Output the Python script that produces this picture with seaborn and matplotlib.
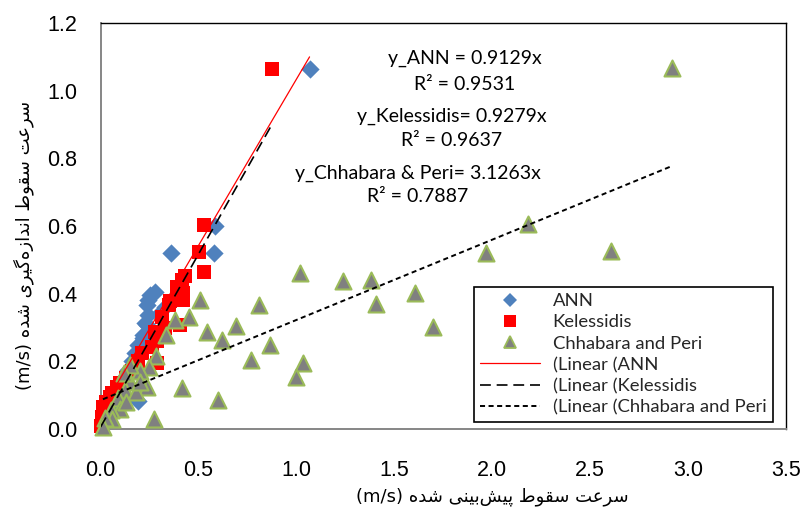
import numpy as np
import matplotlib
matplotlib.use("Agg")
import matplotlib.pyplot as plt
from matplotlib.lines import Line2D
import seaborn as sns

# ---- data: predicted (x) vs measured (y) settling velocity, m/s ----
ann_x = [1.067, 0.585, 0.577, 0.359, 0.278, 0.253, 0.244, 0.236, 0.244, 0.227,
         0.236, 0.219, 0.219, 0.193, 0.185, 0.176, 0.160, 0.140, 0.120, 0.190,
         0.100, 0.080, 0.060, 0.040, 0.020, 0.010, 0.300, 0.330]
ann_y = [1.065, 0.600, 0.520, 0.520, 0.406, 0.396, 0.382, 0.367, 0.337, 0.313,
         0.308, 0.278, 0.268, 0.249, 0.229, 0.224, 0.200, 0.175, 0.150, 0.083,
         0.120, 0.100, 0.075, 0.050, 0.030, 0.012, 0.340, 0.360]

kel_x = [0.876, 0.530, 0.505, 0.526, 0.432, 0.415, 0.389, 0.423, 0.389, 0.415,
         0.423, 0.355, 0.347, 0.313, 0.406, 0.278, 0.262, 0.287, 0.210, 0.190,
         0.160, 0.130, 0.100, 0.082, 0.060, 0.048, 0.030, 0.014, 0.005, 0.000,
         0.290, 0.330]
kel_y = [1.065, 0.604, 0.522, 0.465, 0.451, 0.441, 0.421, 0.401, 0.406, 0.391,
         0.382, 0.377, 0.367, 0.332, 0.308, 0.288, 0.243, 0.194, 0.224, 0.200,
         0.170, 0.150, 0.135, 0.125, 0.105, 0.096, 0.080, 0.066, 0.036, 0.010,
         0.260, 0.300]

chh_x = [2.919, 2.182, 2.607, 1.967, 1.606, 1.696, 1.379, 1.408, 1.237, 1.016,
         1.034, 1.000, 0.867, 0.811, 0.770, 0.691, 0.620, 0.599, 0.543, 0.509,
         0.449, 0.381, 0.415, 0.273, 0.335, 0.283, 0.249, 0.236, 0.202, 0.150,
         0.150, 0.121, 0.123, 0.089, 0.100, 0.055, 0.060, 0.021, 0.012, 0.180,
         0.200, 0.130]
chh_y = [1.068, 0.607, 0.527, 0.521, 0.401, 0.301, 0.441, 0.370, 0.436, 0.461,
         0.194, 0.153, 0.249, 0.367, 0.204, 0.303, 0.263, 0.086, 0.288, 0.382,
         0.332, 0.322, 0.120, 0.030, 0.278, 0.216, 0.184, 0.125, 0.170, 0.189,
         0.140, 0.165, 0.115, 0.091, 0.060, 0.056, 0.030, 0.032, 0.007, 0.110,
         0.140, 0.080]

x_ticks = [0.0, 0.5, 1.0, 1.5, 2.0, 2.5, 3.0, 3.5]
y_ticks = [0.0, 0.2, 0.4, 0.6, 0.8, 1.0, 1.2]

series_names = ["ANN", "Kelessidis", "Chhabara and Peri"]
trend_names = ["(Linear (ANN", "(Linear (Kelessidis", "(Linear (Chhabara and Peri"]
equations = ["y_ANN = 0.9129x", "R\u00b2 = 0.9531",
             "y_Kelessidis= 0.9279x", "R\u00b2 = 0.9637",
             "y_Chhabara & Peri= 3.1263x", "R\u00b2 = 0.7887"]

x_label_fa = "سرعت سقوط پیش\u200cبینی شده"
y_label_fa = "سرعت سقوط اندازه\u200cگیری شده"
unit = "(m/s)"

# ---- minimal Persian shaping (presentation forms, visual order) ----
FORMS = {
    'ا': ('\uFE8D', '\uFE8E', None, None),
    'ب': ('\uFE8F', '\uFE90', '\uFE91', '\uFE92'),
    'پ': ('\uFB56', '\uFB57', '\uFB58', '\uFB59'),
    'ت': ('\uFE95', '\uFE96', '\uFE97', '\uFE98'),
    'د': ('\uFEA9', '\uFEAA', None, None),
    'ر': ('\uFEAD', '\uFEAE', None, None),
    'ز': ('\uFEAF', '\uFEB0', None, None),
    'س': ('\uFEB1', '\uFEB2', '\uFEB3', '\uFEB4'),
    'ش': ('\uFEB5', '\uFEB6', '\uFEB7', '\uFEB8'),
    'ط': ('\uFEC1', '\uFEC2', '\uFEC3', '\uFEC4'),
    'ع': ('\uFEC9', '\uFECA', '\uFECB', '\uFECC'),
    'ق': ('\uFED5', '\uFED6', '\uFED7', '\uFED8'),
    'ن': ('\uFEE5', '\uFEE6', '\uFEE7', '\uFEE8'),
    'ه': ('\uFEE9', '\uFEEA', '\uFEEB', '\uFEEC'),
    'و': ('\uFEED', '\uFEEE', None, None),
    'گ': ('\uFB92', '\uFB93', '\uFB94', '\uFB95'),
    'ی': ('\uFBFC', '\uFBFD', '\uFBFE', '\uFBFF'),
}


def shape_fa(text):
    out = []
    for i, ch in enumerate(text):
        f = FORMS.get(ch)
        if f is None:
            if ch != '\u200c':
                out.append(ch)
            continue
        prev = text[i - 1] if i > 0 else None
        nxt = text[i + 1] if i + 1 < len(text) else None
        join_prev = prev in FORMS and FORMS[prev][2] is not None
        join_next = nxt in FORMS and f[2] is not None
        if join_prev and join_next:
            out.append(f[3])
        elif join_prev:
            out.append(f[1])
        elif join_next:
            out.append(f[2])
        else:
            out.append(f[0])
    return ''.join(out)[::-1]


# ---- figure ----
sns.set_theme(style="white")
plt.rcParams['font.family'] = ['Liberation Sans', 'DejaVu Sans']

W, H = 804, 508
fig = plt.figure(figsize=(W / 100, H / 100), dpi=100)
left, right, top, bottom = 100.6, 786, 23, 429
ax = fig.add_axes([left / W, 1 - bottom / H, (right - left) / W, (bottom - top) / H])

blue, red = "#4F81BD", "#FF0000"
tri_face, tri_edge = "#808080", "#9BBB59"

sns.scatterplot(x=ann_x, y=ann_y, ax=ax, marker="D", color=blue, s=9.3 ** 2,
                edgecolor=blue, linewidth=0, legend=False, clip_on=False, zorder=2)
sns.scatterplot(x=kel_x, y=kel_y, ax=ax, marker="s", color=red, s=10.5 ** 2,
                edgecolor=red, linewidth=0, legend=False, clip_on=False, zorder=3)
sns.scatterplot(x=chh_x, y=chh_y, ax=ax, marker="^", color=tri_face, s=11.5 ** 2,
                edgecolor=tri_edge, linewidth=1.5, legend=False, clip_on=False, zorder=4)

# linear trendlines fitted over each series' range
sns.regplot(x=np.array(ann_x), y=np.array(ann_y), ax=ax, scatter=False, ci=None,
            truncate=True, color=red, line_kws=dict(lw=0.9, zorder=5))
sns.regplot(x=np.array(kel_x), y=np.array(kel_y), ax=ax, scatter=False, ci=None,
            truncate=True, color="black",
            line_kws=dict(lw=1.2, dashes=(6.5, 3.5), zorder=6))
sns.regplot(x=np.array(chh_x), y=np.array(chh_y), ax=ax, scatter=False, ci=None,
            truncate=True, color="black",
            line_kws=dict(lw=1.4, dashes=(2.6, 1.8), zorder=6))

ax.set_xlim(0, 3.5)
ax.set_ylim(0, 1.2)
ax.set_xticks(x_ticks)
ax.set_yticks(y_ticks)
ax.set_xticklabels([f"{v:.1f}" for v in x_ticks])
ax.set_yticklabels([f"{v:.1f}" for v in y_ticks])
ax.set_xlabel("")
ax.set_ylabel("")
ax.tick_params(axis="both", which="major", direction="out", length=5, width=1.1,
               color="#868686", labelsize=15.5, labelcolor="black")
ax.tick_params(axis="x", pad=17)
ax.tick_params(axis="y", pad=12)
for side in ("left", "bottom"):
    ax.spines[side].set_color("#868686")
    ax.spines[side].set_linewidth(1.4)
for side in ("top", "right"):
    ax.spines[side].set_color("black")
    ax.spines[side].set_linewidth(1.0)
ax.grid(False)

# equation annotations
eq_font = dict(family=["Lato", "DejaVu Sans"], size=14, color="black",
               ha="center", va="center")
eq_pos = [(464.5, 58), (464.5, 84), (451.5, 116), (451.5, 140), (417.5, 173), (418, 197)]
for txt, (px, py) in zip(equations, eq_pos):
    fig.text(px / W, 1 - py / H, txt, **eq_font)

# axis titles (Persian, right-to-left)
lab_font = dict(family=["DejaVu Sans"], size=13, color="black")
fig.text(492 / W, 1 - 497 / H, unit + " " + shape_fa(x_label_fa),
         ha="center", va="center", **lab_font)
fig.text(24 / W, 1 - 245 / H, unit + " " + shape_fa(y_label_fa),
         ha="center", va="center", rotation=90, **lab_font)

# legend
handles = [
    Line2D([], [], ls="none", marker="D", ms=7, color=blue, mew=0),
    Line2D([], [], ls="none", marker="s", ms=8.5, color=red, mew=0),
    Line2D([], [], ls="none", marker="^", ms=9, mfc=tri_face, mec=tri_edge, mew=1.3),
    Line2D([], [], color=red, lw=0.9),
    Line2D([], [], color="black", lw=1.2, dashes=(6.5, 3.5)),
    Line2D([], [], color="black", lw=1.4, dashes=(2.6, 1.8)),
]
labels = series_names + trend_names
leg = ax.legend(handles, labels, loc="lower left",
                bbox_to_anchor=((474 - left) / (right - left), (bottom - 422) / (bottom - top)),
                prop=dict(family=["Lato", "DejaVu Sans"], size=13.3),
                frameon=True, fancybox=False, edgecolor="black", framealpha=1,
                handlelength=3.25, handletextpad=0.65, labelspacing=0.28,
                borderpad=0.35, borderaxespad=0, markerscale=1.0)
leg.get_frame().set_linewidth(1.2)

fig.savefig("out.png", dpi=100)
